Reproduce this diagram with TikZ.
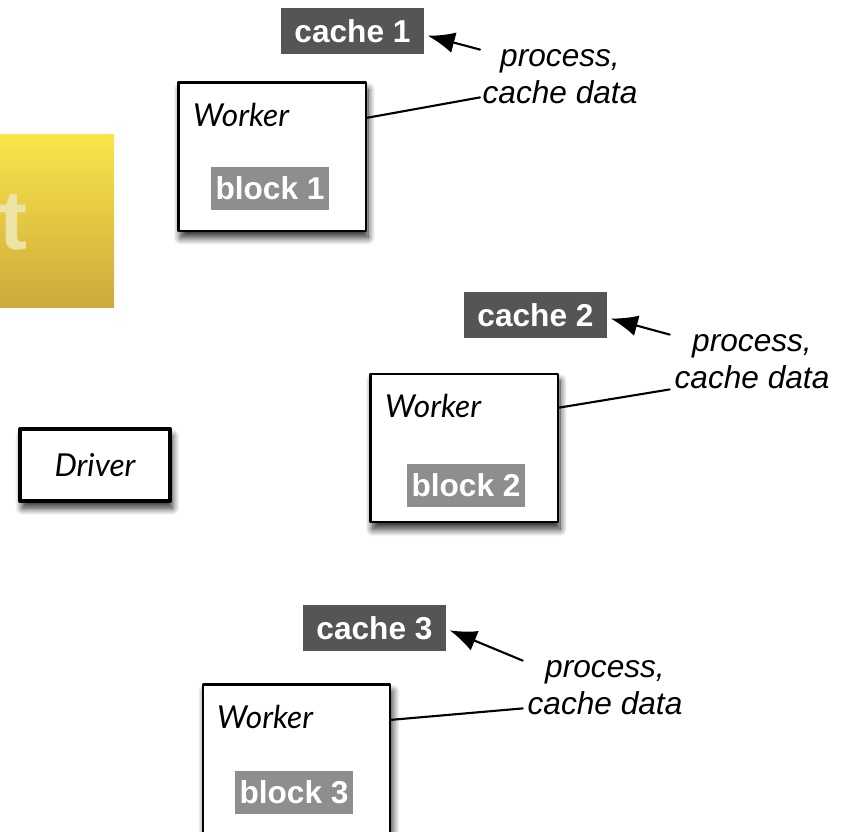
\documentclass[tikz,border=0pt]{standalone}
\usepackage{fontspec}
\setmainfont{Liberation Sans}
\newfontfamily\gillfont{Lato}
\usetikzlibrary{arrows.meta,shadows.blur}

\definecolor{cachegray}{HTML}{555555}
\definecolor{blockgray}{HTML}{8E8E8E}
\definecolor{slidetop}{HTML}{FBE44B}
\definecolor{slidebot}{HTML}{CCAB3B}
\definecolor{slidetext}{HTML}{EDE3A6}

\tikzset{
  softshadow/.style={blur shadow={shadow xshift=2pt, shadow yshift=-6pt, shadow blur steps=12,
    shadow blur radius=6pt, shadow opacity=85}},
  worker/.style={draw, line width=2pt, fill=white, minimum width=5.62cm, minimum height=4.45cm, softshadow},
  cachebox/.style={fill=cachegray, text=white, inner sep=0, minimum width=4.29cm, minimum height=1.38cm,
    font=\fontsize{27}{32}\selectfont\bfseries},
  blockbox/.style={fill=blockgray, text=white, inner sep=0, minimum width=3.54cm, minimum height=1.29cm,
    font=\fontsize{27}{32}\selectfont\bfseries},
  note/.style={align=center, inner sep=0, font=\fontsize{27}{31.6}\selectfont\itshape},
  title/.style={anchor=west, inner sep=0, font=\gillfont\itshape\fontsize{27}{32}\selectfont},
  link/.style={line width=1.8pt},
  pointer/.style={line width=1.8pt, -{Latex[length=23pt,width=18pt]}},
}

\begin{document}
\begin{tikzpicture}[x=0.03cm, y=-0.03cm, line cap=round, line join=round]

                \useasboundingbox (0,0) rectangle (846,831);
                \clip (0,0) rectangle (846,831);

                % slide in the back
                \shade[top color=slidetop, bottom color=slidebot] (-20,134) rectangle (114,307);
                \node[anchor=base east, inner sep=0, text=slidetext, font=\bfseries\fontsize{72}{72}\selectfont] (tee) at (28,249) {t};

                \node[draw, line width=3.4pt, fill=white, minimum width=4.5cm, minimum height=2.16cm, softshadow,
                      font=\gillfont\itshape\fontsize{27}{32}\selectfont] (drv) at (95,465) {Driver};

                \node[worker] (w1) at (272,156.5) {};
                \node[worker] (w2) at (464,448) {};
                \node[worker] (w3) at (296.5,758.5) {};

                \node[title] (t1) at (193,115) {Worker};
                \node[title] (t2) at (385,406) {Worker};
                \node[title] (t3) at (217,717) {Worker};

                \node[blockbox] (b1) at (270,188.5) {block 1};
                \node[blockbox] (b2) at (466,485.5) {block 2};
                \node[blockbox] (b3) at (294,792.5) {block 3};

                \node[cachebox] (c1) at (352.5,31) {cache 1};
                \node[cachebox] (c2) at (535.5,315) {cache 2};
                \node[cachebox] (c3) at (374.5,628) {cache 3};

                \node[note] (n1) at (560,77) {process,\\cache data};
                \node[note] (n2) at (752,362) {process,\\cache data};
                \node[note] (n3) at (605,688) {process,\\cache data};

                \draw[pointer] ([xshift=-2pt]n1.north west) -- ([xshift=3pt,yshift=-4pt]c1.east);
                \draw[pointer] ([xshift=-4pt]n2.north west) -- ([xshift=3pt,yshift=-3pt]c2.east);
                \draw[pointer] ([xshift=-4pt]n3.north west) -- ([xshift=3pt,yshift=-2pt]c3.east);

                \draw[link] ([yshift=-1.1cm]w1.north east) -- ([xshift=-2pt,yshift=6pt]n1.south west);
                \draw[link] ([yshift=-1.05cm]w2.north east) -- ([xshift=-4pt]n2.south west);
                \draw[link] ([yshift=-1.1cm]w3.north east) -- ([xshift=-4pt,yshift=6pt]n3.south west);

\end{tikzpicture}
\end{document}
